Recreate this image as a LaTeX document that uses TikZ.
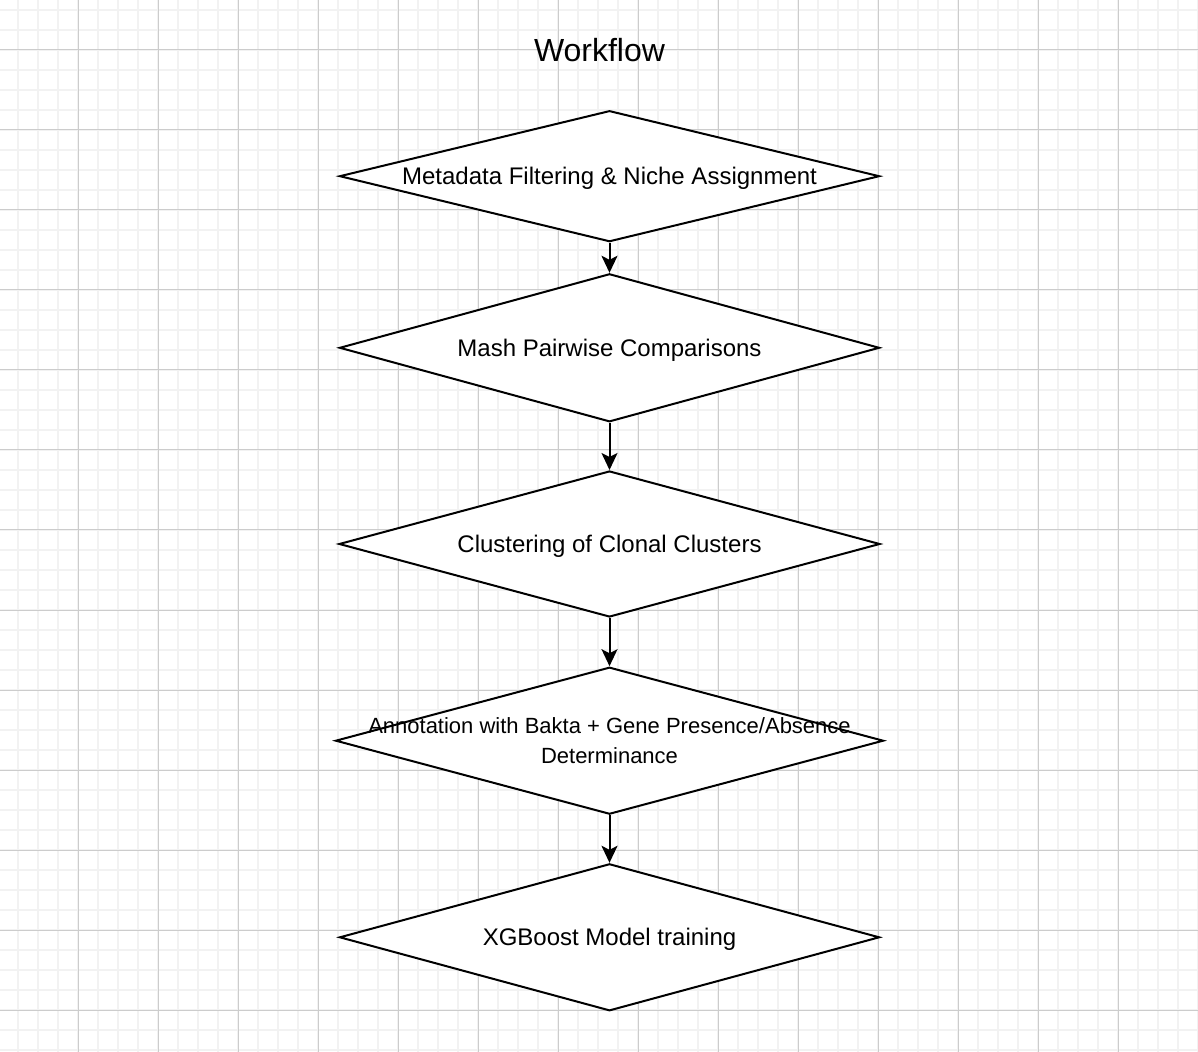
\documentclass[tikz,border=0pt]{standalone}
\usepackage{fontspec}
\setmainfont{Liberation Sans}
\usepackage{xcolor}
\usepackage{tikz}
\usetikzlibrary{arrows.meta,shapes.geometric}

\definecolor{gridminor}{HTML}{F2F2F2}
\definecolor{gridmajor}{HTML}{CCCCCC}

\tikzset{
  stepbox/.style={diamond, draw=black, fill=white, line width=1pt, inner sep=0pt},
  steptext/.style={font=\fontsize{12}{14.5}\selectfont, align=center},
  oneline/.style={text height=8.6pt, text depth=0pt},
  flow/.style={-{Stealth[length=8.5pt, width=8pt, inset=2pt]}, line width=1pt},
}

\begin{document}
\begin{tikzpicture}[x=0.5pt, y=-0.5pt]

\useasboundingbox (0,0) rectangle (1198,1052);
\fill[white] (0,0) rectangle (1198,1052);

% Background grid
\foreach \gx in {18.3,38.3,...,1198.3}
  \draw[gridminor, line width=1pt] (\gx,0) -- (\gx,1052);
\foreach \gy in {10,30,...,1050}
  \draw[gridminor, line width=1pt] (0,\gy) -- (1198,\gy);
\foreach \gx in {78.3,158.3,...,1198.3}
  \draw[gridmajor, line width=0.5pt] (\gx,0) -- (\gx,1052);
\foreach \gy in {50,130,...,1010}
  \draw[gridmajor, line width=0.5pt] (0,\gy) -- (1198,\gy);

% Title
\node[font=\fontsize{16}{19}\selectfont, anchor=base] (title) at (599.5,61.7) {Workflow};

% Workflow steps
\node[stepbox, minimum width=270pt, minimum height=65.5pt] (filter) at (609.5,176.2) {};
\node[steptext, oneline] (filtertext) at (filter.center) {Metadata Filtering \& Niche Assignment};

\node[stepbox, minimum width=270pt, minimum height=74pt] (mash) at (609.5,347.8) {};
\node[steptext, oneline] (mashtext) at (mash.center) {Mash Pairwise Comparisons};

\node[stepbox, minimum width=270.5pt, minimum height=73pt] (cluster) at (609.5,544) {};
\node[steptext, oneline] (clustertext) at (cluster.center) {Clustering of Clonal Clusters};

\node[stepbox, minimum width=274pt, minimum height=73.5pt] (annot) at (609.5,740.7) {};
\node[steptext, font=\fontsize{11}{15}\selectfont] (annottext) at (annot.center) {Annotation with Bakta + Gene Presence/Absence\\Determinance};

\node[stepbox, minimum width=270pt, minimum height=73.5pt] (xgb) at (609.5,937.3) {};
\node[steptext, oneline] (xgbtext) at (xgb.center) {XGBoost Model training};

% Arrows between steps
\draw[flow] (filter.south) -- (mash.north);
\draw[flow] (mash.south) -- (cluster.north);
\draw[flow] (cluster.south) -- (annot.north);
\draw[flow] (annot.south) -- (xgb.north);

\end{tikzpicture}
\end{document}
